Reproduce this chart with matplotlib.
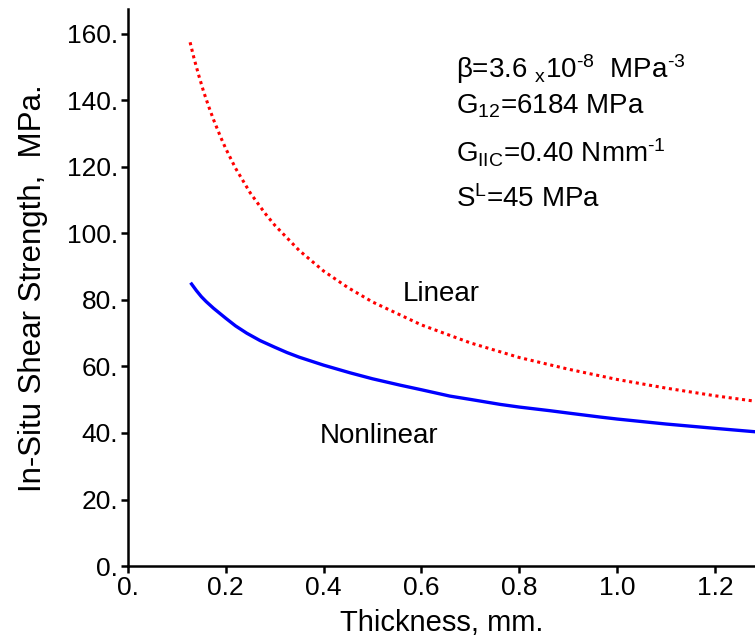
import matplotlib
matplotlib.use("Agg")
from matplotlib import pyplot as plt

plt.rcParams['font.family'] = ['Liberation Sans', 'DejaVu Sans']
plt.rcParams['mathtext.fontset'] = 'custom'
plt.rcParams['mathtext.rm'] = 'Liberation Sans'
plt.rcParams['mathtext.it'] = 'Liberation Sans'

# Data
t_lin = [0.127, 0.135, 0.145, 0.155, 0.165, 0.175, 0.19, 0.2, 0.22, 0.25, 0.28, 0.3, 0.35,
         0.4, 0.45, 0.5, 0.6, 0.7, 0.8, 0.9, 1.0, 1.1, 1.2, 1.28]
s_lin = [157.5, 152.7, 147.4, 142.5, 138.2, 134.2, 128.8, 125.5, 119.6, 112.2, 106.1, 102.5, 94.9,
         88.7, 83.7, 79.4, 72.5, 67.1, 62.7, 59.2, 56.1, 53.5, 51.2, 49.6]

t_nonlin = [0.13, 0.14, 0.15, 0.16, 0.175, 0.19, 0.2, 0.22, 0.243, 0.27, 0.3, 0.325, 0.35,
            0.4, 0.454, 0.5, 0.556, 0.6, 0.658, 0.7, 0.761, 0.8, 0.863, 0.9, 0.965, 1.0,
            1.1, 1.2, 1.28]
s_nonlin = [84.8, 82.8, 81.0, 79.5, 77.5, 75.7, 74.5, 72.2, 70.0, 67.8, 65.8, 64.2, 62.8,
            60.4, 58.1, 56.3, 54.4, 53.0, 51.1, 50.1, 48.6, 47.8, 46.7, 46.0, 44.8, 44.2,
            42.7, 41.4, 40.4]

xticks = [0.0, 0.2, 0.4, 0.6, 0.8, 1.0, 1.2]
xticklabels = ["0.", "0.2", "0.4", "0.6", "0.8", "1.0", "1.2"]
yticks = [0, 20, 40, 60, 80, 100, 120, 140, 160]
yticklabels = ["0.", "20.", "40.", "60.", "80.", "100.", "120.", "140.", "160."]

fig = plt.figure(figsize=(7.55, 6.44), dpi=100)
ax = fig.add_axes([0.1695, 0.1211, 0.8305, 0.8644])

ax.plot(t_lin, s_lin, color='red', lw=2.2, linestyle=(0, (1, 1.2)))
ax.plot(t_nonlin, s_nonlin, color='blue', lw=2.4)

ax.set_xlim(0, 1.282)
ax.set_ylim(0, 167.4)
ax.set_xticks(xticks)
ax.set_xticklabels(xticklabels)
ax.set_yticks(yticks)
ax.set_yticklabels(yticklabels)

for side in ['top', 'right']:
    ax.spines[side].set_visible(False)
for side in ['left', 'bottom']:
    ax.spines[side].set_linewidth(1.8)
ax.tick_params(direction='out', length=5, width=1.8, labelsize=19, pad=2)

ax.set_xlabel("Thickness, mm.", fontsize=21, labelpad=7)
ax.set_ylabel("In-Situ Shear Strength,  MPa.", fontsize=22.5, labelpad=14)

ax.text(0.67, 146.8, "β=3.6 $_{\\mathregular{x}}$10$^{\\mathregular{\u20108}}$  MPa$^{\\mathregular{\u20103}}$", fontsize=20)
ax.text(0.67, 136.2, r"G$_{\mathregular{12}}$=6184 MPa", fontsize=20)
ax.text(0.67, 121.2, "G$_{\\mathregular{IIC}}$=0.40 Nmm$^{\\mathregular{\u20101}}$", fontsize=20)
ax.text(0.67, 108.0, r"S$^{\mathregular{L}}$=45 MPa", fontsize=20)

ax.text(0.562, 79.7, "Linear", fontsize=20)
ax.text(0.393, 37.0, "Nonlinear", fontsize=20)

fig.savefig("out.png", dpi=100)
